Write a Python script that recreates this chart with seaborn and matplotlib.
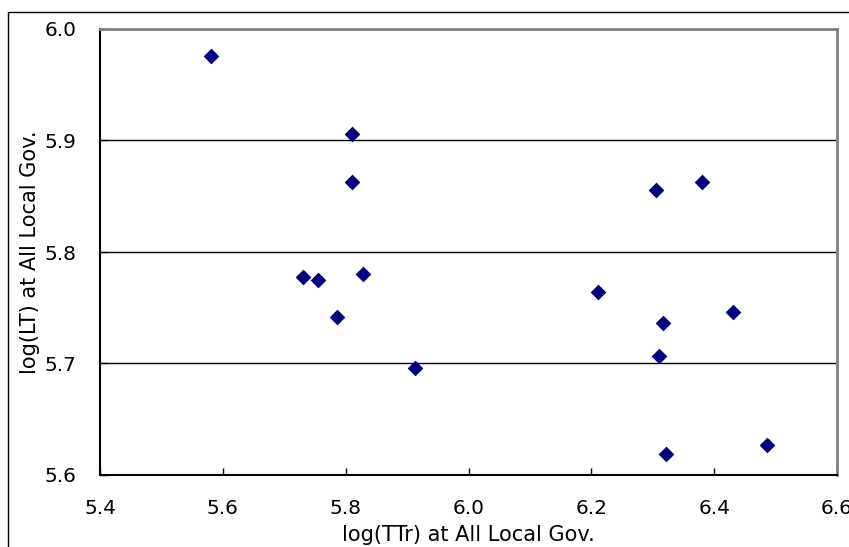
import matplotlib
matplotlib.use("Agg")
import matplotlib.pyplot as plt
import seaborn as sns
import pandas as pd
from matplotlib.patches import Rectangle

# ---------------- DATA ----------------
log_ttr = [5.580, 5.810, 5.811, 5.731, 5.755, 5.828, 5.786, 5.913,
           6.211, 6.306, 6.380, 6.430, 6.317, 6.310, 6.321, 6.486]
log_lt = [5.976, 5.906, 5.863, 5.778, 5.775, 5.780, 5.742, 5.696,
          5.764, 5.856, 5.863, 5.746, 5.736, 5.707, 5.619, 5.627]

x_ticks = [5.4, 5.6, 5.8, 6.0, 6.2, 6.4, 6.6]
y_ticks = [5.6, 5.7, 5.8, 5.9, 6.0]

df = pd.DataFrame({"ttr": log_ttr, "lt": log_lt})

# ---------------- STYLE ----------------
sns.set_style("white")
plt.rcParams["font.family"] = ["DejaVu Sans"]

fig = plt.figure(figsize=(8.49, 5.47), dpi=100)
ax = fig.add_axes([100 / 849, 1 - 475 / 547, 737 / 849, 446 / 547])

# outer chart frame (cropped on right / bottom)
fig.patches.append(Rectangle((8 / 849, -0.1), 1.2, 1 - 12 / 547 + 0.1,
                             transform=fig.transFigure, fill=False,
                             edgecolor="black", linewidth=1.0))

for y in y_ticks[1:-1]:
    ax.axhline(y, color="black", linewidth=1.0, zorder=1)

sns.scatterplot(data=df, x="ttr", y="lt", marker="D", color="#000080",
                s=64, linewidth=0, ax=ax, zorder=3)

ax.set_xlim(5.4, 6.6)
ax.set_ylim(5.6, 6.0)
ax.set_xticks(x_ticks)
ax.set_yticks(y_ticks)
ax.set_xticklabels([f"{v:.1f}" for v in x_ticks])
ax.set_yticklabels([f"{v:.1f}" for v in y_ticks])
ax.tick_params(bottom=True, left=True, direction="in", length=5, width=1,
               color="black", labelsize=14.5, pad=17, labelcolor="black")

for side in ["left", "bottom"]:
    ax.spines[side].set_color("black")
    ax.spines[side].set_linewidth(1.5)
for side in ["top", "right"]:
    ax.spines[side].set_color("#808080")
    ax.spines[side].set_linewidth(2.0)

ax.set_xlabel("log(TTr) at All Local Gov.", fontsize=15, labelpad=5,
              color="black")
ax.set_ylabel("log(LT) at All Local Gov.", fontsize=15, labelpad=3,
              color="black")

fig.savefig("out.png", dpi=100)
